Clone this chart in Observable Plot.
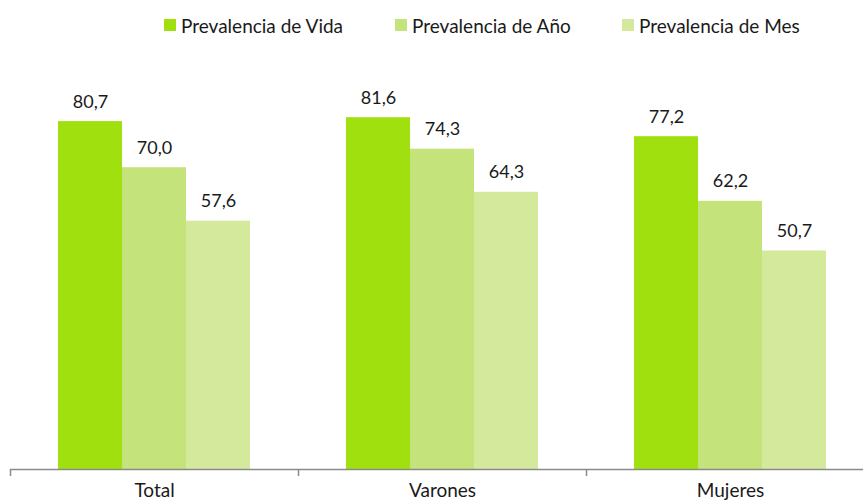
<!DOCTYPE html>
<html>
<head>
<meta charset="utf-8">
<script src="https://cdn.jsdelivr.net/npm/d3@7"></script>
<script src="https://cdn.jsdelivr.net/npm/@observablehq/plot@0.6"></script>
<style>
  html, body { margin: 0; padding: 0; background: #fff; overflow: hidden; }
  body { width: 863px; height: 504px; font-family: Lato, "Open Sans", sans-serif; color: #1a1a1a; }
  #legend { position: relative; height: 40px; font-size: 19px; }
  .item { position: absolute; top: 13px; display: flex; align-items: center; height: 24px; white-space: nowrap; }
  .sw { width: 12px; height: 12px; margin-right: 5px; }
  #chart svg { display: block; }
</style>
</head>
<body>
<div id="legend"></div>
<div id="chart"></div>
<script>
const categories = ["Total", "Varones", "Mujeres"];
const seriesNames = ["Prevalencia de Vida", "Prevalencia de Año", "Prevalencia de Mes"];
const seriesColors = ["#a0e00e", "#c4e37b", "#d5e99c"];
const vida = [80.7, 81.6, 77.2];
const anio = [70.0, 74.3, 62.2];
const mes = [57.6, 64.3, 50.7];

const seriesValues = [vida, anio, mes];
const data = [];
categories.forEach((c, i) => {
  seriesNames.forEach((s, j) => {
    data.push({category: c, series: s, value: seriesValues[j][i]});
  });
});

const legendLeft = [164, 395, 622];
const legend = document.getElementById("legend");
seriesNames.forEach((s, j) => {
  const it = document.createElement("div");
  it.className = "item";
  it.style.left = legendLeft[j] + "px";
  const sw = document.createElement("span");
  sw.className = "sw";
  sw.style.background = seriesColors[j];
  const t = document.createElement("span");
  t.textContent = s;
  it.appendChild(sw);
  it.appendChild(t);
  legend.appendChild(it);
});

const fmt = v => v.toFixed(1).replace(".", ",");
const step = (863 + 11 - 10) / categories.length;

const chart = Plot.plot({
  width: 863,
  height: 464,
  marginLeft: 10,
  marginRight: -11,
  marginTop: 41,
  marginBottom: 35,
  style: {fontFamily: "Lato, 'Open Sans', sans-serif", fontSize: "18px", color: "#1a1a1a", background: "#fff"},
  fx: {domain: categories, padding: 0, label: null},
  x: {domain: seriesNames, paddingInner: 0, paddingOuter: 0.75, axis: null},
  y: {domain: [0, 90], axis: null},
  color: {domain: seriesNames, range: seriesColors},
  marks: [
    Plot.barY(data, {fx: "category", x: "series", y: "value", fill: "series"}),
    Plot.text(data, {fx: "category", x: "series", y: "value", text: d => fmt(d.value), dy: -14, lineAnchor: "bottom", fontSize: 18, fill: "#1a1a1a"}),
    Plot.ruleY([0], {stroke: "#8a8a8a", strokeWidth: 1.5}),
    Plot.axisFx({anchor: "bottom", tickSize: 7, text: null, dx: -step / 2, stroke: "#8a8a8a", strokeWidth: 1.5, label: null}),
    Plot.axisFx({anchor: "bottom", tickSize: 0, tickPadding: 14, fontSize: 19, label: null, fill: "#1a1a1a"})
  ]
});
document.getElementById("chart").appendChild(chart);
</script>
</body>
</html>
